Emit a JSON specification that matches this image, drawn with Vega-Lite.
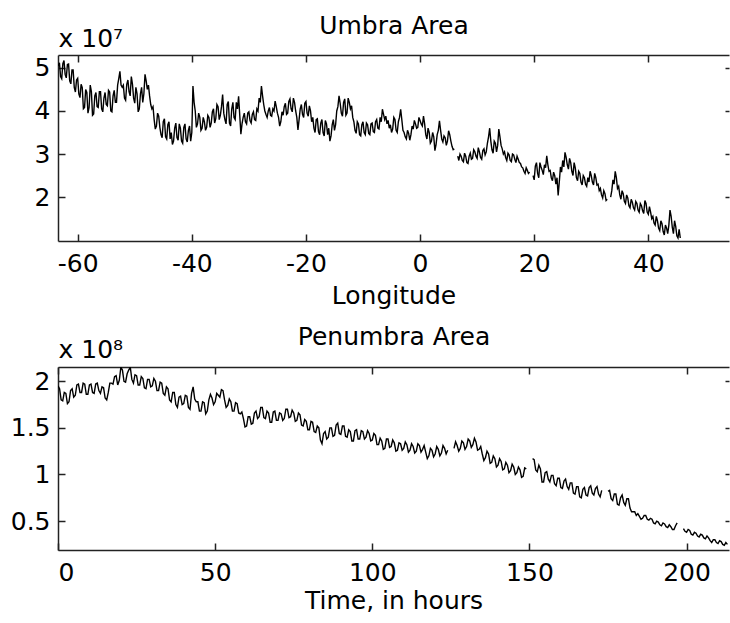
{
  "$schema": "https://vega.github.io/schema/vega-lite/v6.json",
  "background": "white",
  "padding": {"left": 10, "top": 13, "right": 0, "bottom": 5},
  "autosize": {"type": "pad"},
  "config": {
    "view": {"stroke": null},
    "font": "DejaVu Sans",
    "axis": {
      "labelFont": "DejaVu Sans", "labelFontSize": 25, "labelColor": "black",
      "titleFont": "DejaVu Sans", "titleFontSize": 25, "titleFontWeight": "normal", "titleColor": "black",
      "domainColor": "#222", "domainWidth": 1.5, "tickColor": "#222", "tickWidth": 1.5,
      "grid": false, "tickSize": -7, "labelExpr": "datum.value + ''"
    }
  },
  "datasets": {
    "umbra": [
      {"lon":-63.4,"area":5.05},{"lon":-63.2,"area":5.12},{"lon":-63.0,"area":4.80},{"lon":-62.8,"area":4.75},{"lon":-62.6,"area":5.10},{"lon":-62.4,"area":5.17},{"lon":-62.2,"area":4.85},{"lon":-62.0,"area":4.77},{"lon":-61.8,"area":5.08},{"lon":-61.6,"area":5.09},
      {"lon":-61.4,"area":4.70},{"lon":-61.2,"area":4.63},{"lon":-61.0,"area":4.95},{"lon":-60.8,"area":4.95},{"lon":-60.6,"area":4.55},{"lon":-60.4,"area":4.44},{"lon":-60.2,"area":4.72},{"lon":-60.0,"area":4.76},{"lon":-59.8,"area":4.40},{"lon":-59.6,"area":4.31},
      {"lon":-59.4,"area":4.62},{"lon":-59.2,"area":4.54},{"lon":-59.0,"area":4.05},{"lon":-58.8,"area":4.08},{"lon":-58.6,"area":4.50},{"lon":-58.4,"area":4.43},{"lon":-58.2,"area":3.95},{"lon":-58.0,"area":4.08},{"lon":-57.8,"area":4.60},{"lon":-57.6,"area":4.45},
      {"lon":-57.4,"area":3.90},{"lon":-57.2,"area":3.93},{"lon":-57.0,"area":4.35},{"lon":-56.8,"area":4.43},{"lon":-56.6,"area":4.10},{"lon":-56.4,"area":4.08},{"lon":-56.2,"area":4.45},{"lon":-56.0,"area":4.45},{"lon":-55.8,"area":4.05},{"lon":-55.6,"area":3.98},
      {"lon":-55.4,"area":4.30},{"lon":-55.2,"area":4.43},{"lon":-55.0,"area":4.15},{"lon":-54.8,"area":4.12},{"lon":-54.6,"area":4.48},{"lon":-54.4,"area":4.44},{"lon":-54.2,"area":4.00},{"lon":-54.0,"area":3.98},{"lon":-53.8,"area":4.35},{"lon":-53.6,"area":4.48},
      {"lon":-53.4,"area":4.20},{"lon":-53.2,"area":4.20},{"lon":-53.0,"area":4.60},{"lon":-52.8,"area":4.75},{"lon":-52.6,"area":4.92},{"lon":-52.4,"area":4.60},{"lon":-52.2,"area":4.55},{"lon":-52.0,"area":4.60},{"lon":-51.8,"area":4.30},{"lon":-51.6,"area":4.25},
      {"lon":-51.4,"area":4.62},{"lon":-51.2,"area":4.72},{"lon":-51.0,"area":4.45},{"lon":-50.8,"area":4.35},{"lon":-50.6,"area":4.80},{"lon":-50.4,"area":4.62},{"lon":-50.2,"area":4.30},{"lon":-50.0,"area":4.18},{"lon":-49.8,"area":4.55},{"lon":-49.6,"area":4.40},
      {"lon":-49.4,"area":3.98},{"lon":-49.2,"area":4.05},{"lon":-49.0,"area":4.40},{"lon":-48.8,"area":4.55},{"lon":-48.6,"area":4.20},{"lon":-48.4,"area":4.40},{"lon":-48.2,"area":4.85},{"lon":-48.0,"area":4.70},{"lon":-47.8,"area":4.50},{"lon":-47.6,"area":4.60},
      {"lon":-47.4,"area":4.35},{"lon":-47.2,"area":4.15},{"lon":-47.0,"area":4.05},{"lon":-46.8,"area":4.10},{"lon":-46.6,"area":3.80},{"lon":-46.4,"area":3.58},{"lon":-46.2,"area":3.65},{"lon":-46.0,"area":3.95},{"lon":-45.8,"area":3.88},{"lon":-45.6,"area":3.62},
      {"lon":-45.4,"area":3.45},{"lon":-45.2,"area":3.38},{"lon":-45.0,"area":3.75},{"lon":-44.8,"area":3.82},{"lon":-44.6,"area":3.40},{"lon":-44.4,"area":3.35},{"lon":-44.2,"area":3.68},{"lon":-44.0,"area":3.75},{"lon":-43.8,"area":3.35},{"lon":-43.6,"area":3.50},
      {"lon":-43.4,"area":3.22},{"lon":-43.2,"area":3.30},{"lon":-43.0,"area":3.60},{"lon":-42.8,"area":3.72},{"lon":-42.6,"area":3.38},{"lon":-42.4,"area":3.32},{"lon":-42.2,"area":3.70},{"lon":-42.0,"area":3.60},{"lon":-41.8,"area":3.30},{"lon":-41.6,"area":3.25},
      {"lon":-41.4,"area":3.62},{"lon":-41.2,"area":3.70},{"lon":-41.0,"area":3.35},{"lon":-40.8,"area":3.28},{"lon":-40.6,"area":3.55},{"lon":-40.4,"area":3.65},{"lon":-40.2,"area":3.30},{"lon":-40.0,"area":3.50},{"lon":-39.8,"area":4.58},{"lon":-39.6,"area":4.20},
      {"lon":-39.4,"area":4.00},{"lon":-39.2,"area":3.62},{"lon":-39.0,"area":3.70},{"lon":-38.8,"area":3.95},{"lon":-38.6,"area":3.85},{"lon":-38.4,"area":3.55},{"lon":-38.2,"area":3.60},{"lon":-38.0,"area":3.85},{"lon":-37.8,"area":3.75},{"lon":-37.6,"area":3.55},
      {"lon":-37.4,"area":3.62},{"lon":-37.2,"area":3.90},{"lon":-37.0,"area":3.85},{"lon":-36.8,"area":3.62},{"lon":-36.6,"area":3.72},{"lon":-36.4,"area":3.98},{"lon":-36.2,"area":4.05},{"lon":-36.0,"area":3.72},{"lon":-35.8,"area":3.82},{"lon":-35.6,"area":4.15},
      {"lon":-35.4,"area":4.10},{"lon":-35.2,"area":3.80},{"lon":-35.0,"area":3.90},{"lon":-34.8,"area":4.10},{"lon":-34.6,"area":4.38},{"lon":-34.4,"area":3.95},{"lon":-34.2,"area":3.80},{"lon":-34.0,"area":3.70},{"lon":-33.8,"area":4.15},{"lon":-33.6,"area":4.22},
      {"lon":-33.4,"area":3.72},{"lon":-33.2,"area":3.65},{"lon":-33.0,"area":4.05},{"lon":-32.8,"area":4.20},{"lon":-32.6,"area":3.85},{"lon":-32.4,"area":3.80},{"lon":-32.2,"area":4.20},{"lon":-32.0,"area":4.05},{"lon":-31.8,"area":4.34},{"lon":-31.6,"area":3.90},
      {"lon":-31.4,"area":3.46},{"lon":-31.2,"area":3.70},{"lon":-31.0,"area":3.85},{"lon":-30.8,"area":3.95},{"lon":-30.6,"area":3.75},{"lon":-30.4,"area":3.70},{"lon":-30.2,"area":3.95},{"lon":-30.0,"area":3.98},{"lon":-29.8,"area":3.78},{"lon":-29.6,"area":3.72},
      {"lon":-29.4,"area":3.92},{"lon":-29.2,"area":3.98},{"lon":-29.0,"area":3.80},{"lon":-28.8,"area":3.78},{"lon":-28.6,"area":4.05},{"lon":-28.4,"area":4.00},{"lon":-28.2,"area":4.30},{"lon":-28.0,"area":4.20},{"lon":-27.8,"area":4.58},{"lon":-27.6,"area":4.35},
      {"lon":-27.4,"area":4.15},{"lon":-27.2,"area":4.00},{"lon":-27.0,"area":3.92},{"lon":-26.8,"area":3.85},{"lon":-26.6,"area":4.00},{"lon":-26.4,"area":4.08},{"lon":-26.2,"area":3.90},{"lon":-26.0,"area":3.88},{"lon":-25.8,"area":4.05},{"lon":-25.6,"area":4.00},
      {"lon":-25.4,"area":4.23},{"lon":-25.2,"area":4.10},{"lon":-25.0,"area":3.95},{"lon":-24.8,"area":3.85},{"lon":-24.6,"area":3.65},{"lon":-24.4,"area":3.75},{"lon":-24.2,"area":3.98},{"lon":-24.0,"area":3.90},{"lon":-23.8,"area":4.10},{"lon":-23.6,"area":4.18},
      {"lon":-23.4,"area":3.92},{"lon":-23.2,"area":3.95},{"lon":-23.0,"area":4.22},{"lon":-22.8,"area":4.28},{"lon":-22.6,"area":4.05},{"lon":-22.4,"area":3.98},{"lon":-22.2,"area":4.30},{"lon":-22.0,"area":4.20},{"lon":-21.8,"area":4.00},{"lon":-21.6,"area":3.85},
      {"lon":-21.4,"area":3.56},{"lon":-21.2,"area":3.80},{"lon":-21.0,"area":4.05},{"lon":-20.8,"area":4.15},{"lon":-20.6,"area":3.92},{"lon":-20.4,"area":3.85},{"lon":-20.2,"area":4.18},{"lon":-20.0,"area":4.22},{"lon":-19.8,"area":3.95},{"lon":-19.6,"area":3.88},
      {"lon":-19.4,"area":4.12},{"lon":-19.2,"area":4.00},{"lon":-19.0,"area":3.75},{"lon":-18.8,"area":3.85},{"lon":-18.6,"area":3.60},{"lon":-18.4,"area":3.50},{"lon":-18.2,"area":3.80},{"lon":-18.0,"area":3.82},{"lon":-17.8,"area":3.52},{"lon":-17.6,"area":3.45},
      {"lon":-17.4,"area":3.72},{"lon":-17.2,"area":3.80},{"lon":-17.0,"area":3.50},{"lon":-16.8,"area":3.42},{"lon":-16.6,"area":3.78},{"lon":-16.4,"area":3.70},{"lon":-16.2,"area":3.45},{"lon":-16.0,"area":3.60},{"lon":-15.8,"area":3.30},{"lon":-15.6,"area":3.42},
      {"lon":-15.4,"area":3.68},{"lon":-15.2,"area":3.80},{"lon":-15.0,"area":3.55},{"lon":-14.8,"area":3.68},{"lon":-14.6,"area":4.00},{"lon":-14.4,"area":4.10},{"lon":-14.2,"area":4.35},{"lon":-14.0,"area":4.18},{"lon":-13.8,"area":3.95},{"lon":-13.6,"area":3.88},
      {"lon":-13.4,"area":4.20},{"lon":-13.2,"area":4.28},{"lon":-13.0,"area":3.90},{"lon":-12.8,"area":3.95},{"lon":-12.6,"area":4.30},{"lon":-12.4,"area":4.20},{"lon":-12.2,"area":4.05},{"lon":-12.0,"area":4.12},{"lon":-11.8,"area":3.85},{"lon":-11.6,"area":3.75},
      {"lon":-11.4,"area":3.55},{"lon":-11.2,"area":3.48},{"lon":-11.0,"area":3.75},{"lon":-10.8,"area":3.70},{"lon":-10.6,"area":3.45},{"lon":-10.4,"area":3.42},{"lon":-10.2,"area":3.68},{"lon":-10.0,"area":3.75},{"lon":-9.8,"area":3.50},{"lon":-9.6,"area":3.45},
      {"lon":-9.4,"area":3.72},{"lon":-9.2,"area":3.68},{"lon":-9.0,"area":3.48},{"lon":-8.8,"area":3.45},{"lon":-8.6,"area":3.70},{"lon":-8.4,"area":3.72},{"lon":-8.2,"area":3.52},{"lon":-8.0,"area":3.50},{"lon":-7.8,"area":3.75},{"lon":-7.6,"area":3.80},
      {"lon":-7.4,"area":3.60},{"lon":-7.2,"area":3.58},{"lon":-7.0,"area":3.85},{"lon":-6.8,"area":3.75},{"lon":-6.6,"area":4.04},{"lon":-6.4,"area":3.92},{"lon":-6.2,"area":3.80},{"lon":-6.0,"area":3.88},{"lon":-5.8,"area":3.70},{"lon":-5.6,"area":3.78},
      {"lon":-5.4,"area":3.60},{"lon":-5.2,"area":3.68},{"lon":-5.0,"area":3.50},{"lon":-4.8,"area":3.58},{"lon":-4.6,"area":3.85},{"lon":-4.4,"area":3.80},{"lon":-4.2,"area":3.55},{"lon":-4.0,"area":3.50},{"lon":-3.8,"area":3.75},{"lon":-3.6,"area":3.85},
      {"lon":-3.4,"area":4.04},{"lon":-3.2,"area":3.80},{"lon":-3.0,"area":3.55},{"lon":-2.8,"area":3.50},{"lon":-2.6,"area":3.40},{"lon":-2.4,"area":3.35},{"lon":-2.2,"area":3.55},{"lon":-2.0,"area":3.48},{"lon":-1.8,"area":3.32},{"lon":-1.6,"area":3.45},
      {"lon":-1.4,"area":3.65},{"lon":-1.2,"area":3.58},{"lon":-1.0,"area":3.78},{"lon":-0.8,"area":3.70},{"lon":-0.6,"area":3.60},{"lon":-0.4,"area":3.62},{"lon":-0.2,"area":3.85},{"lon":0.0,"area":3.78},{"lon":0.2,"area":3.70},{"lon":0.4,"area":3.65},
      {"lon":0.6,"area":3.88},{"lon":0.8,"area":3.70},{"lon":1.0,"area":3.45},{"lon":1.2,"area":3.35},{"lon":1.4,"area":3.60},{"lon":1.6,"area":3.50},{"lon":1.8,"area":3.25},{"lon":2.0,"area":3.30},{"lon":2.2,"area":3.50},{"lon":2.4,"area":3.40},
      {"lon":2.6,"area":3.08},{"lon":2.8,"area":3.22},{"lon":3.0,"area":3.45},{"lon":3.2,"area":3.55},{"lon":3.4,"area":3.77},{"lon":3.6,"area":3.55},{"lon":3.8,"area":3.35},{"lon":4.0,"area":3.28},{"lon":4.2,"area":3.42},{"lon":4.4,"area":3.38},
      {"lon":4.6,"area":3.20},{"lon":4.8,"area":3.30},{"lon":5.0,"area":3.54},{"lon":5.2,"area":3.45},{"lon":5.4,"area":3.30},{"lon":5.6,"area":3.18},{"lon":5.8,"area":3.10},{"lon":6.0,"area":3.12},{"lon":6.2,"area":null},{"lon":6.6,"area":2.95},
      {"lon":6.8,"area":2.85},{"lon":7.0,"area":3.00},{"lon":7.2,"area":2.95},{"lon":7.4,"area":2.85},{"lon":7.6,"area":2.82},{"lon":7.8,"area":3.02},{"lon":8.0,"area":2.95},{"lon":8.2,"area":2.80},{"lon":8.4,"area":2.78},{"lon":8.6,"area":2.95},
      {"lon":8.8,"area":3.02},{"lon":9.0,"area":2.88},{"lon":9.2,"area":2.90},{"lon":9.4,"area":3.10},{"lon":9.6,"area":3.05},{"lon":9.8,"area":2.95},{"lon":10.0,"area":2.90},{"lon":10.2,"area":3.15},{"lon":10.4,"area":3.05},{"lon":10.6,"area":2.92},
      {"lon":10.8,"area":2.88},{"lon":11.0,"area":3.08},{"lon":11.2,"area":3.12},{"lon":11.4,"area":2.98},{"lon":11.6,"area":3.05},{"lon":11.8,"area":3.25},{"lon":12.0,"area":3.40},{"lon":12.2,"area":3.60},{"lon":12.4,"area":3.30},{"lon":12.6,"area":3.10},
      {"lon":12.8,"area":3.02},{"lon":13.0,"area":3.30},{"lon":13.2,"area":3.25},{"lon":13.4,"area":3.05},{"lon":13.6,"area":3.20},{"lon":13.8,"area":3.58},{"lon":14.0,"area":3.40},{"lon":14.2,"area":3.20},{"lon":14.4,"area":3.12},{"lon":14.6,"area":3.00},
      {"lon":14.8,"area":3.05},{"lon":15.0,"area":2.92},{"lon":15.2,"area":2.85},{"lon":15.4,"area":3.02},{"lon":15.6,"area":2.98},{"lon":15.8,"area":2.85},{"lon":16.0,"area":2.82},{"lon":16.2,"area":3.00},{"lon":16.4,"area":2.98},{"lon":16.6,"area":2.88},
      {"lon":16.8,"area":2.80},{"lon":17.0,"area":2.95},{"lon":17.2,"area":2.88},{"lon":17.4,"area":2.80},{"lon":17.6,"area":2.78},{"lon":17.8,"area":2.70},{"lon":18.0,"area":2.68},{"lon":18.2,"area":2.60},{"lon":18.4,"area":2.55},{"lon":18.6,"area":2.68},
      {"lon":18.8,"area":2.62},{"lon":19.0,"area":2.55},{"lon":19.2,"area":2.58},{"lon":19.4,"area":null},{"lon":19.8,"area":2.50},{"lon":20.0,"area":2.40},{"lon":20.2,"area":2.72},{"lon":20.4,"area":2.80},{"lon":20.6,"area":2.55},{"lon":20.8,"area":2.45},
      {"lon":21.0,"area":2.80},{"lon":21.2,"area":2.70},{"lon":21.4,"area":2.62},{"lon":21.6,"area":2.52},{"lon":21.8,"area":2.75},{"lon":22.0,"area":2.68},{"lon":22.2,"area":2.96},{"lon":22.4,"area":2.75},{"lon":22.6,"area":2.60},{"lon":22.8,"area":2.62},
      {"lon":23.0,"area":2.45},{"lon":23.2,"area":2.38},{"lon":23.4,"area":2.58},{"lon":23.6,"area":2.50},{"lon":23.8,"area":2.30},{"lon":24.0,"area":2.45},{"lon":24.2,"area":2.04},{"lon":24.4,"area":2.35},{"lon":24.6,"area":2.70},{"lon":24.8,"area":2.58},
      {"lon":25.0,"area":2.85},{"lon":25.2,"area":2.70},{"lon":25.4,"area":3.04},{"lon":25.6,"area":2.92},{"lon":25.8,"area":2.75},{"lon":26.0,"area":2.65},{"lon":26.2,"area":2.90},{"lon":26.4,"area":2.80},{"lon":26.6,"area":2.60},{"lon":26.8,"area":2.50},
      {"lon":27.0,"area":2.80},{"lon":27.2,"area":2.68},{"lon":27.4,"area":2.45},{"lon":27.6,"area":2.38},{"lon":27.8,"area":2.60},{"lon":28.0,"area":2.55},{"lon":28.2,"area":2.35},{"lon":28.4,"area":2.28},{"lon":28.6,"area":2.50},{"lon":28.8,"area":2.45},
      {"lon":29.0,"area":2.30},{"lon":29.2,"area":2.25},{"lon":29.4,"area":2.45},{"lon":29.6,"area":2.35},{"lon":29.8,"area":2.60},{"lon":30.0,"area":2.50},{"lon":30.2,"area":2.35},{"lon":30.4,"area":2.28},{"lon":30.6,"area":2.55},{"lon":30.8,"area":2.45},
      {"lon":31.0,"area":2.28},{"lon":31.2,"area":2.30},{"lon":31.4,"area":2.15},{"lon":31.6,"area":2.20},{"lon":31.8,"area":2.05},{"lon":32.0,"area":1.98},{"lon":32.2,"area":2.15},{"lon":32.4,"area":2.08},{"lon":32.6,"area":1.92},{"lon":32.8,"area":1.95},
      {"lon":33.0,"area":null},{"lon":33.4,"area":2.00},{"lon":33.6,"area":2.15},{"lon":33.8,"area":2.40},{"lon":34.0,"area":2.30},{"lon":34.2,"area":2.60},{"lon":34.4,"area":2.45},{"lon":34.6,"area":2.20},{"lon":34.8,"area":2.25},{"lon":35.0,"area":2.05},
      {"lon":35.2,"area":1.95},{"lon":35.4,"area":2.15},{"lon":35.6,"area":2.08},{"lon":35.8,"area":1.90},{"lon":36.0,"area":1.85},{"lon":36.2,"area":2.05},{"lon":36.4,"area":1.98},{"lon":36.6,"area":1.80},{"lon":36.8,"area":1.75},{"lon":37.0,"area":1.95},
      {"lon":37.2,"area":1.88},{"lon":37.4,"area":1.75},{"lon":37.6,"area":1.70},{"lon":37.8,"area":1.90},{"lon":38.0,"area":1.85},{"lon":38.2,"area":1.70},{"lon":38.4,"area":1.65},{"lon":38.6,"area":1.85},{"lon":38.8,"area":1.80},{"lon":39.0,"area":1.68},
      {"lon":39.2,"area":1.62},{"lon":39.4,"area":1.92},{"lon":39.6,"area":1.85},{"lon":39.8,"area":1.65},{"lon":40.0,"area":1.60},{"lon":40.2,"area":1.78},{"lon":40.4,"area":1.65},{"lon":40.6,"area":1.50},{"lon":40.8,"area":1.55},{"lon":41.0,"area":1.40},
      {"lon":41.2,"area":1.35},{"lon":41.4,"area":1.55},{"lon":41.6,"area":1.45},{"lon":41.8,"area":1.28},{"lon":42.0,"area":1.22},{"lon":42.2,"area":1.45},{"lon":42.4,"area":1.38},{"lon":42.6,"area":1.20},{"lon":42.8,"area":1.12},{"lon":43.0,"area":1.35},
      {"lon":43.2,"area":1.28},{"lon":43.4,"area":1.15},{"lon":43.6,"area":1.35},{"lon":43.8,"area":1.70},{"lon":44.0,"area":1.55},{"lon":44.2,"area":1.30},{"lon":44.4,"area":1.15},{"lon":44.6,"area":1.45},{"lon":44.8,"area":1.32},{"lon":45.0,"area":1.10},
      {"lon":45.2,"area":1.05},{"lon":45.4,"area":1.25},{"lon":45.6,"area":1.05}
    ],
    "penumbra": [
      {"hours":0,"area":1.95},{"hours":0.5,"area":1.92},{"hours":1,"area":1.80},{"hours":1.5,"area":1.79},{"hours":2,"area":1.88},{"hours":2.5,"area":1.87},{"hours":3,"area":1.76},{"hours":3.5,"area":1.78},{"hours":4,"area":1.90},{"hours":4.5,"area":1.92},
      {"hours":5,"area":1.83},{"hours":5.5,"area":1.85},{"hours":6,"area":1.96},{"hours":6.5,"area":1.97},{"hours":7,"area":1.88},{"hours":7.5,"area":1.88},{"hours":8,"area":1.98},{"hours":8.5,"area":1.97},{"hours":9,"area":1.86},{"hours":9.5,"area":1.86},
      {"hours":10,"area":1.96},{"hours":10.5,"area":1.97},{"hours":11,"area":1.88},{"hours":11.5,"area":1.87},{"hours":12,"area":1.97},{"hours":12.5,"area":1.98},{"hours":13,"area":1.90},{"hours":13.5,"area":1.87},{"hours":14,"area":1.94},{"hours":14.5,"area":1.93},
      {"hours":15,"area":1.82},{"hours":15.5,"area":1.80},{"hours":16,"area":1.88},{"hours":16.5,"area":1.98},{"hours":17,"area":1.98},{"hours":17.5,"area":1.97},{"hours":18,"area":2.05},{"hours":18.5,"area":2.06},{"hours":19,"area":1.96},{"hours":19.5,"area":2.01},
      {"hours":20,"area":2.15},{"hours":20.5,"area":2.12},{"hours":21,"area":2.00},{"hours":21.5,"area":1.99},{"hours":22,"area":2.08},{"hours":22.5,"area":2.12},{"hours":23,"area":2.15},{"hours":23.5,"area":2.02},{"hours":24,"area":1.98},{"hours":24.5,"area":2.07},
      {"hours":25,"area":2.06},{"hours":25.5,"area":1.96},{"hours":26,"area":1.96},{"hours":26.5,"area":2.05},{"hours":27,"area":2.03},{"hours":27.5,"area":1.93},{"hours":28,"area":1.92},{"hours":28.5,"area":2.02},{"hours":29,"area":2.02},{"hours":29.5,"area":1.94},
      {"hours":30,"area":1.95},{"hours":30.5,"area":2.03},{"hours":31,"area":2.00},{"hours":31.5,"area":1.90},{"hours":32,"area":1.90},{"hours":32.5,"area":1.99},{"hours":33,"area":1.98},{"hours":33.5,"area":1.87},{"hours":34,"area":1.85},{"hours":34.5,"area":1.94},
      {"hours":35,"area":1.92},{"hours":35.5,"area":1.80},{"hours":36,"area":1.78},{"hours":36.5,"area":1.88},{"hours":37,"area":1.88},{"hours":37.5,"area":1.75},{"hours":38,"area":1.72},{"hours":38.5,"area":1.83},{"hours":39,"area":1.84},{"hours":39.5,"area":1.75},
      {"hours":40,"area":1.76},{"hours":40.5,"area":1.85},{"hours":41,"area":1.84},{"hours":41.5,"area":1.72},{"hours":42,"area":1.70},{"hours":42.5,"area":1.87},{"hours":43,"area":1.94},{"hours":43.5,"area":1.81},{"hours":44,"area":1.78},{"hours":44.5,"area":1.78},
      {"hours":45,"area":1.68},{"hours":45.5,"area":1.68},{"hours":46,"area":1.78},{"hours":46.5,"area":1.77},{"hours":47,"area":1.65},{"hours":47.5,"area":1.68},{"hours":48,"area":1.80},{"hours":48.5,"area":1.86},{"hours":49,"area":1.82},{"hours":49.5,"area":1.75},
      {"hours":50,"area":1.78},{"hours":50.5,"area":1.87},{"hours":51,"area":1.85},{"hours":51.5,"area":1.83},{"hours":52,"area":1.91},{"hours":52.5,"area":1.90},{"hours":53,"area":1.80},{"hours":53.5,"area":1.72},{"hours":54,"area":1.74},{"hours":54.5,"area":1.81},
      {"hours":55,"area":1.78},{"hours":55.5,"area":1.68},{"hours":56,"area":1.68},{"hours":56.5,"area":1.77},{"hours":57,"area":1.76},{"hours":57.5,"area":1.66},{"hours":58,"area":1.65},{"hours":58.5,"area":1.67},{"hours":59,"area":1.60},{"hours":59.5,"area":1.51},
      {"hours":60,"area":1.52},{"hours":60.5,"area":1.62},{"hours":61,"area":1.62},{"hours":61.5,"area":1.54},{"hours":62,"area":1.55},{"hours":62.5,"area":1.66},{"hours":63,"area":1.68},{"hours":63.5,"area":1.60},{"hours":64,"area":1.62},{"hours":64.5,"area":1.72},
      {"hours":65,"area":1.72},{"hours":65.5,"area":1.61},{"hours":66,"area":1.60},{"hours":66.5,"area":1.68},{"hours":67,"area":1.66},{"hours":67.5,"area":1.56},{"hours":68,"area":1.56},{"hours":68.5,"area":1.67},{"hours":69,"area":1.68},{"hours":69.5,"area":1.58},
      {"hours":70,"area":1.58},{"hours":70.5,"area":1.66},{"hours":71,"area":1.65},{"hours":71.5,"area":1.58},{"hours":72,"area":1.60},{"hours":72.5,"area":1.70},{"hours":73,"area":1.70},{"hours":73.5,"area":1.61},{"hours":74,"area":1.62},{"hours":74.5,"area":1.69},
      {"hours":75,"area":1.66},{"hours":75.5,"area":1.57},{"hours":76,"area":1.58},{"hours":76.5,"area":1.66},{"hours":77,"area":1.64},{"hours":77.5,"area":1.53},{"hours":78,"area":1.52},{"hours":78.5,"area":1.59},{"hours":79,"area":1.57},{"hours":79.5,"area":1.48},
      {"hours":80,"area":1.48},{"hours":80.5,"area":1.57},{"hours":81,"area":1.56},{"hours":81.5,"area":1.46},{"hours":82,"area":1.45},{"hours":82.5,"area":1.52},{"hours":83,"area":1.50},{"hours":83.5,"area":1.37},{"hours":84,"area":1.33},{"hours":84.5,"area":1.44},
      {"hours":85,"area":1.46},{"hours":85.5,"area":1.38},{"hours":86,"area":1.40},{"hours":86.5,"area":1.50},{"hours":87,"area":1.50},{"hours":87.5,"area":1.41},{"hours":88,"area":1.42},{"hours":88.5,"area":1.53},{"hours":89,"area":1.55},{"hours":89.5,"area":1.44},
      {"hours":90,"area":1.43},{"hours":90.5,"area":1.52},{"hours":91,"area":1.52},{"hours":91.5,"area":1.41},{"hours":92,"area":1.40},{"hours":92.5,"area":1.48},{"hours":93,"area":1.46},{"hours":93.5,"area":1.36},{"hours":94,"area":1.36},{"hours":94.5,"area":1.47},
      {"hours":95,"area":1.48},{"hours":95.5,"area":1.38},{"hours":96,"area":1.38},{"hours":96.5,"area":1.47},{"hours":97,"area":1.46},{"hours":97.5,"area":1.38},{"hours":98,"area":1.40},{"hours":98.5,"area":1.47},{"hours":99,"area":1.44},{"hours":99.5,"area":1.36},
      {"hours":100,"area":1.37},{"hours":100.5,"area":1.44},{"hours":101,"area":1.42},{"hours":101.5,"area":1.32},{"hours":102,"area":1.32},{"hours":102.5,"area":1.39},{"hours":103,"area":1.36},{"hours":103.5,"area":1.27},{"hours":104,"area":1.28},{"hours":104.5,"area":1.38},
      {"hours":105,"area":1.38},{"hours":105.5,"area":1.29},{"hours":106,"area":1.30},{"hours":106.5,"area":1.37},{"hours":107,"area":1.34},{"hours":107.5,"area":1.25},{"hours":108,"area":1.26},{"hours":108.5,"area":1.34},{"hours":109,"area":1.33},{"hours":109.5,"area":1.26},
      {"hours":110,"area":1.28},{"hours":110.5,"area":1.35},{"hours":111,"area":1.32},{"hours":111.5,"area":1.24},{"hours":112,"area":1.26},{"hours":112.5,"area":1.33},{"hours":113,"area":1.30},{"hours":113.5,"area":1.23},{"hours":114,"area":1.25},{"hours":114.5,"area":1.33},
      {"hours":115,"area":1.31},{"hours":115.5,"area":1.24},{"hours":116,"area":1.27},{"hours":116.5,"area":1.31},{"hours":117,"area":1.24},{"hours":117.5,"area":1.17},{"hours":118,"area":1.20},{"hours":118.5,"area":1.28},{"hours":119,"area":1.26},{"hours":119.5,"area":1.19},
      {"hours":120,"area":1.22},{"hours":120.5,"area":1.30},{"hours":121,"area":1.27},{"hours":121.5,"area":1.20},{"hours":122,"area":1.23},{"hours":122.5,"area":1.31},{"hours":123,"area":1.28},{"hours":123.5,"area":1.22},{"hours":124,"area":1.26},{"hours":125,"area":null},
      {"hours":126,"area":1.28},{"hours":126.5,"area":1.35},{"hours":127,"area":1.31},{"hours":127.5,"area":1.25},{"hours":128,"area":1.28},{"hours":128.5,"area":1.36},{"hours":129,"area":1.34},{"hours":129.5,"area":1.27},{"hours":130,"area":1.30},{"hours":130.5,"area":1.38},
      {"hours":131,"area":1.36},{"hours":131.5,"area":1.29},{"hours":132,"area":1.32},{"hours":132.5,"area":1.39},{"hours":133,"area":1.35},{"hours":133.5,"area":1.26},{"hours":134,"area":1.27},{"hours":134.5,"area":1.30},{"hours":135,"area":1.22},{"hours":135.5,"area":1.15},
      {"hours":136,"area":1.18},{"hours":136.5,"area":1.25},{"hours":137,"area":1.22},{"hours":137.5,"area":1.12},{"hours":138,"area":1.13},{"hours":138.5,"area":1.20},{"hours":139,"area":1.17},{"hours":139.5,"area":1.08},{"hours":140,"area":1.10},{"hours":140.5,"area":1.17},
      {"hours":141,"area":1.14},{"hours":141.5,"area":1.05},{"hours":142,"area":1.06},{"hours":142.5,"area":1.13},{"hours":143,"area":1.10},{"hours":143.5,"area":1.02},{"hours":144,"area":1.04},{"hours":144.5,"area":1.11},{"hours":145,"area":1.08},{"hours":145.5,"area":1.00},
      {"hours":146,"area":1.02},{"hours":146.5,"area":1.08},{"hours":147,"area":1.05},{"hours":147.5,"area":0.97},{"hours":148,"area":0.98},{"hours":148.5,"area":1.07},{"hours":149,"area":1.06},{"hours":150,"area":null},{"hours":151,"area":1.17},{"hours":151.5,"area":1.16},
      {"hours":152,"area":1.05},{"hours":152.5,"area":1.03},{"hours":153,"area":1.10},{"hours":153.5,"area":1.06},{"hours":154,"area":0.92},{"hours":154.5,"area":0.92},{"hours":155,"area":1.02},{"hours":155.5,"area":1.03},{"hours":156,"area":0.95},{"hours":156.5,"area":0.92},
      {"hours":157,"area":0.99},{"hours":157.5,"area":0.99},{"hours":158,"area":0.90},{"hours":158.5,"area":0.88},{"hours":159,"area":0.96},{"hours":159.5,"area":0.96},{"hours":160,"area":0.86},{"hours":160.5,"area":0.85},{"hours":161,"area":0.93},{"hours":161.5,"area":0.95},
      {"hours":162,"area":0.87},{"hours":162.5,"area":0.84},{"hours":163,"area":0.91},{"hours":163.5,"area":0.91},{"hours":164,"area":0.80},{"hours":164.5,"area":0.79},{"hours":165,"area":0.87},{"hours":165.5,"area":0.87},{"hours":166,"area":0.76},{"hours":166.5,"area":0.75},
      {"hours":167,"area":0.84},{"hours":167.5,"area":0.86},{"hours":168,"area":0.78},{"hours":168.5,"area":0.77},{"hours":169,"area":0.86},{"hours":169.5,"area":0.88},{"hours":170,"area":0.80},{"hours":170.5,"area":0.78},{"hours":171,"area":0.85},{"hours":171.5,"area":0.87},
      {"hours":172,"area":0.79},{"hours":172.5,"area":0.76},{"hours":173,"area":0.83},{"hours":174,"area":null},{"hours":175,"area":0.82},{"hours":175.5,"area":0.83},{"hours":176,"area":0.74},{"hours":176.5,"area":0.72},{"hours":177,"area":0.79},{"hours":177.5,"area":0.79},
      {"hours":178,"area":0.68},{"hours":178.5,"area":0.67},{"hours":179,"area":0.75},{"hours":179.5,"area":0.78},{"hours":180,"area":0.70},{"hours":180.5,"area":0.67},{"hours":181,"area":0.74},{"hours":181.5,"area":0.74},{"hours":182,"area":0.64},{"hours":182.5,"area":0.60},
      {"hours":183,"area":0.60},{"hours":183.5,"area":0.60},{"hours":184,"area":0.56},{"hours":184.5,"area":0.58},{"hours":185,"area":0.55},{"hours":185.5,"area":0.52},{"hours":186,"area":0.53},{"hours":186.5,"area":0.56},{"hours":187,"area":0.56},{"hours":187.5,"area":0.52},
      {"hours":188,"area":0.51},{"hours":188.5,"area":0.53},{"hours":189,"area":0.52},{"hours":189.5,"area":0.48},{"hours":190,"area":0.47},{"hours":190.5,"area":0.50},{"hours":191,"area":0.49},{"hours":191.5,"area":0.46},{"hours":192,"area":0.45},{"hours":192.5,"area":0.48},
      {"hours":193,"area":0.47},{"hours":193.5,"area":0.44},{"hours":194,"area":0.43},{"hours":194.5,"area":0.46},{"hours":195,"area":0.44},{"hours":195.5,"area":0.41},{"hours":196,"area":0.41},{"hours":196.5,"area":0.45},{"hours":197,"area":0.48},{"hours":198,"area":null},
      {"hours":199,"area":0.42},{"hours":199.5,"area":0.39},{"hours":200,"area":0.38},{"hours":200.5,"area":0.41},{"hours":201,"area":0.40},{"hours":201.5,"area":0.36},{"hours":202,"area":0.35},{"hours":202.5,"area":0.38},{"hours":203,"area":0.37},{"hours":203.5,"area":0.34},
      {"hours":204,"area":0.33},{"hours":204.5,"area":0.36},{"hours":205,"area":0.35},{"hours":205.5,"area":0.32},{"hours":206,"area":0.31},{"hours":206.5,"area":0.34},{"hours":207,"area":0.32},{"hours":207.5,"area":0.29},{"hours":208,"area":0.27},{"hours":208.5,"area":0.30},
      {"hours":209,"area":0.30},{"hours":209.5,"area":0.27},{"hours":210,"area":0.26},{"hours":210.5,"area":0.29},{"hours":211,"area":0.28},{"hours":211.5,"area":0.25},{"hours":212,"area":0.24},{"hours":212.5,"area":0.27},{"hours":213,"area":0.25}
    ]
  },
  "bounds": "flush",
  "spacing": 126,
  "vconcat": [
    {
      "width": 671,
      "height": 186,
      "data": {"name": "umbra"},
      "layer": [
        {
          "mark": {"type": "line", "color": "black", "strokeWidth": 1.4, "clip": true, "invalid": "break-paths-show-domains"},
          "encoding": {
            "x": {"field": "lon", "type": "quantitative",
              "scale": {"domain": [-63.45, 54.14], "nice": false, "zero": false},
              "axis": {"orient": "bottom", "values": [-60, -40, -20, 0, 20, 40], "labelPadding": 17.5,
                "title": "Longitude", "titleX": 335.5, "titleY": 62, "titleAlign": "center", "titleBaseline": "alphabetic", "titleAnchor": null}},
            "y": {"field": "area", "type": "quantitative",
              "scale": {"domain": [0.98, 5.3], "nice": false, "zero": false},
              "axis": {"orient": "left", "values": [2, 3, 4, 5], "labelPadding": 15,
                "title": "x 10⁷", "titleAngle": 0, "titleX": 0, "titleY": -9, "titleAlign": "left", "titleBaseline": "alphabetic", "titleAnchor": null}}
          }
        },
        {
          "mark": {"type": "line", "opacity": 0, "invalid": "break-paths-show-domains"},
          "encoding": {
            "x": {"field": "lon", "type": "quantitative",
              "axis": {"orient": "top", "values": [-60, -40, -20, 0, 20, 40], "labels": false,
                "title": "Umbra Area", "titleX": 335.5, "titleY": -22, "titleAlign": "center", "titleBaseline": "alphabetic", "titleAnchor": null}},
            "y": {"field": "area", "type": "quantitative",
              "axis": {"orient": "right", "values": [2, 3, 4, 5], "labels": false, "domain": false, "title": null, "tickSize": -4}}
          }
        }
      ],
      "resolve": {"axis": {"x": "independent", "y": "independent"}}
    },
    {
      "width": 671,
      "height": 183,
      "data": {"name": "penumbra"},
      "layer": [
        {
          "mark": {"type": "line", "color": "black", "strokeWidth": 1.4, "clip": true, "invalid": "break-paths-show-domains"},
          "encoding": {
            "x": {"field": "hours", "type": "quantitative",
              "scale": {"domain": [0, 213.5], "nice": false, "zero": false},
              "axis": {"orient": "bottom", "values": [0, 50, 100, 150, 200], "labelPadding": 17.5,
                "title": "Time, in hours", "titleX": 335.5, "titleY": 58, "titleAlign": "center", "titleBaseline": "alphabetic", "titleAnchor": null}},
            "y": {"field": "area", "type": "quantitative",
              "scale": {"domain": [0.19, 2.153], "nice": false, "zero": false},
              "axis": {"orient": "left", "values": [0.5, 1, 1.5, 2], "labelPadding": 15,
                "title": "x 10⁸", "titleAngle": 0, "titleX": 0, "titleY": -10, "titleAlign": "left", "titleBaseline": "alphabetic", "titleAnchor": null}}
          }
        },
        {
          "mark": {"type": "line", "opacity": 0, "invalid": "break-paths-show-domains"},
          "encoding": {
            "x": {"field": "hours", "type": "quantitative",
              "axis": {"orient": "top", "values": [0, 50, 100, 150, 200], "labels": false,
                "title": "Penumbra Area", "titleX": 335.5, "titleY": -22.5, "titleAlign": "center", "titleBaseline": "alphabetic", "titleAnchor": null}},
            "y": {"field": "area", "type": "quantitative",
              "axis": {"orient": "right", "values": [0.5, 1, 1.5, 2], "labels": false, "domain": false, "title": null, "tickSize": -4}}
          }
        }
      ],
      "resolve": {"axis": {"x": "independent", "y": "independent"}}
    }
  ]
}
